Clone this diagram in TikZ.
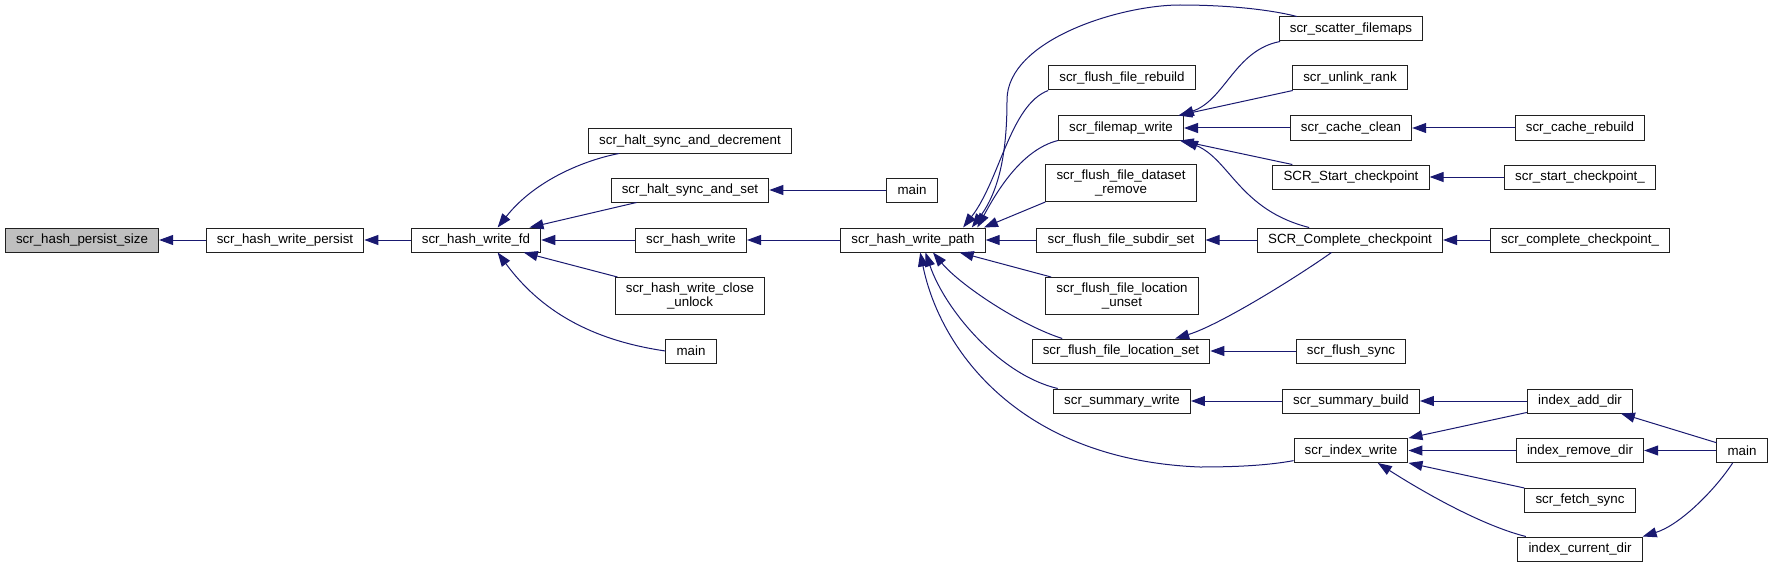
\documentclass[tikz,border=0pt]{standalone}
\usepackage{fontspec}
\setmainfont{Liberation Sans}
\usepackage{tikz}
\usetikzlibrary{arrows.meta}
\definecolor{edgeblue}{HTML}{191970}
\definecolor{rootgray}{HTML}{BFBFBF}
\definecolor{boxline}{HTML}{202020}
\tikzset{
  fn/.style={
    draw=boxline,
    fill=white,
    line width=0.75pt,
    inner xsep=8pt,
    inner ysep=4pt,
    minimum height=18pt,
    align=center,
    font=\fontsize{10}{10.5}\selectfont,
  },
  rootfn/.style={fn, fill=rootgray},
  call/.style={draw=edgeblue, line width=0.75pt, {Triangle[length=10.5pt,width=7.5pt]}-},
}

\begin{document}
\begin{tikzpicture}[x=0.75pt,y=-0.75pt]
  \useasboundingbox (0,0) rectangle (1775,567);

  % functions
  \node[rootfn] (persist) at (82,240) {scr\_hash\_persist\_size};
  \node[fn] (wpersist) at (285,240) {scr\_hash\_write\_persist};
  \node[fn] (wfd) at (476,240) {scr\_hash\_write\_fd};

  \node[fn] (haltdec) at (690,141) {scr\_halt\_sync\_and\_decrement};
  \node[fn] (haltset) at (690,190) {scr\_halt\_sync\_and\_set};
  \node[fn] (hwrite) at (691,240) {scr\_hash\_write};
  \node[fn] (closeunl) at (690,296) {scr\_hash\_write\_close\\\_unlock};
  \node[fn] (mainA) at (691,351) {main};

  \node[fn] (mainB) at (912,190) {main};
  \node[fn] (hwpath) at (913,240) {scr\_hash\_write\_path};

  \node[fn] (rebuild) at (1122,78) {scr\_flush\_file\_rebuild};
  \node[fn] (fmwrite) at (1121,128) {scr\_filemap\_write};
  \node[fn] (dsremove) at (1121,183) {scr\_flush\_file\_dataset\\\_remove};
  \node[fn] (subdir) at (1121,240) {scr\_flush\_file\_subdir\_set};
  \node[fn] (locunset) at (1122,296) {scr\_flush\_file\_location\\\_unset};
  \node[fn] (locset) at (1121,351) {scr\_flush\_file\_location\_set};
  \node[fn] (sumwrite) at (1122,401) {scr\_summary\_write};

  \node[fn] (scatter) at (1351,29) {scr\_scatter\_filemaps};
  \node[fn] (unlink) at (1350,78) {scr\_unlink\_rank};
  \node[fn] (cclean) at (1351,128) {scr\_cache\_clean};
  \node[fn] (sstart) at (1351,177) {SCR\_Start\_checkpoint};
  \node[fn] (scompl) at (1350,240) {SCR\_Complete\_checkpoint};
  \node[fn] (fsync) at (1351,351) {scr\_flush\_sync};
  \node[fn] (sumbuild) at (1351,401) {scr\_summary\_build};
  \node[fn] (idxwrite) at (1351,450.5) {scr\_index\_write};

  \node[fn] (crebuild) at (1580,128) {scr\_cache\_rebuild};
  \node[fn] (startck) at (1580,177) {scr\_start\_checkpoint\_};
  \node[fn] (complck) at (1580,240) {scr\_complete\_checkpoint\_};
  \node[fn] (adddir) at (1580,401) {index\_add\_dir};
  \node[fn] (rmdir) at (1580,450.5) {index\_remove\_dir};
  \node[fn] (fetch) at (1580,500) {scr\_fetch\_sync};
  \node[fn] (curdir) at (1580,549) {index\_current\_dir};
  \node[fn] (mainC) at (1742,450.5) {main};

  % calls
  \draw[call] (persist) -- (wpersist);
  \draw[call] (wpersist) -- (wfd);
  \draw[call] (wfd.30) .. controls (535,180) and (585,160) .. (haltdec.190);
  \draw[call] (wfd) -- (haltset);
  \draw[call] (wfd) -- (hwrite);
  \draw[call] (wfd) -- (closeunl);
  \draw[call] (wfd.-30) .. controls (540,310) and (590,340) .. (mainA.west);
  \draw[call] (haltset) -- (mainB);
  \draw[call] (hwrite) -- (hwpath);

  \draw[call] (hwpath.12) .. controls (1000,190) and (1007,150) .. (1007,100)
    .. controls (1007,40) and (1120,5) .. (1180,5)
    .. controls (1240,5) and (1280,12) .. (scatter.167);
  \draw[call] (hwpath.14) .. controls (1000,180) and (1010,105) .. (rebuild.south west);
  \draw[call] (hwpath.11) .. controls (995,195) and (1020,150) .. (fmwrite.south west);
  \draw[call] (hwpath.10) -- (dsremove.south west);
  \draw[call] (hwpath) -- (subdir);
  \draw[call] (hwpath) -- (locunset);
  \draw[call] (hwpath.-32) .. controls (960,285) and (1020,325) .. (locset.168);
  \draw[call] (hwpath.-45) .. controls (945,310) and (1000,375) .. (sumwrite.169);
  \draw[call] (hwpath.-60) .. controls (940,350) and (1020,460) .. (1200,467)
    .. controls (1240,467) and (1270,465) .. (idxwrite.190);

  \draw[call] (fmwrite.12) .. controls (1225,100) and (1235,50) .. (scatter.190);
  \draw[call] (fmwrite) -- (unlink);
  \draw[call] (fmwrite) -- (cclean);
  \draw[call] (fmwrite) -- (sstart);
  \draw[call] (fmwrite.-11) .. controls (1230,160) and (1240,210) .. (scompl.163);
  \draw[call] (cclean) -- (crebuild);
  \draw[call] (sstart) -- (startck);
  \draw[call] (subdir) -- (scompl);
  \draw[call] (scompl) -- (complck);
  \draw[call] (locset.13) .. controls (1220,325) and (1300,275) .. (scompl.214);
  \draw[call] (locset) -- (fsync);
  \draw[call] (sumwrite) -- (sumbuild);
  \draw[call] (sumbuild) -- (adddir);

  \draw[call] (idxwrite) -- (adddir);
  \draw[call] (idxwrite) -- (rmdir);
  \draw[call] (idxwrite) -- (fetch);
  \draw[call] (idxwrite.-25) .. controls (1420,490) and (1480,525) .. (curdir.167);
  \draw[call] (adddir) -- (mainC);
  \draw[call] (rmdir) -- (mainC);
  \draw[call] (curdir.north east) .. controls (1680,525) and (1715,490) .. (mainC.233);
\end{tikzpicture}
\end{document}
